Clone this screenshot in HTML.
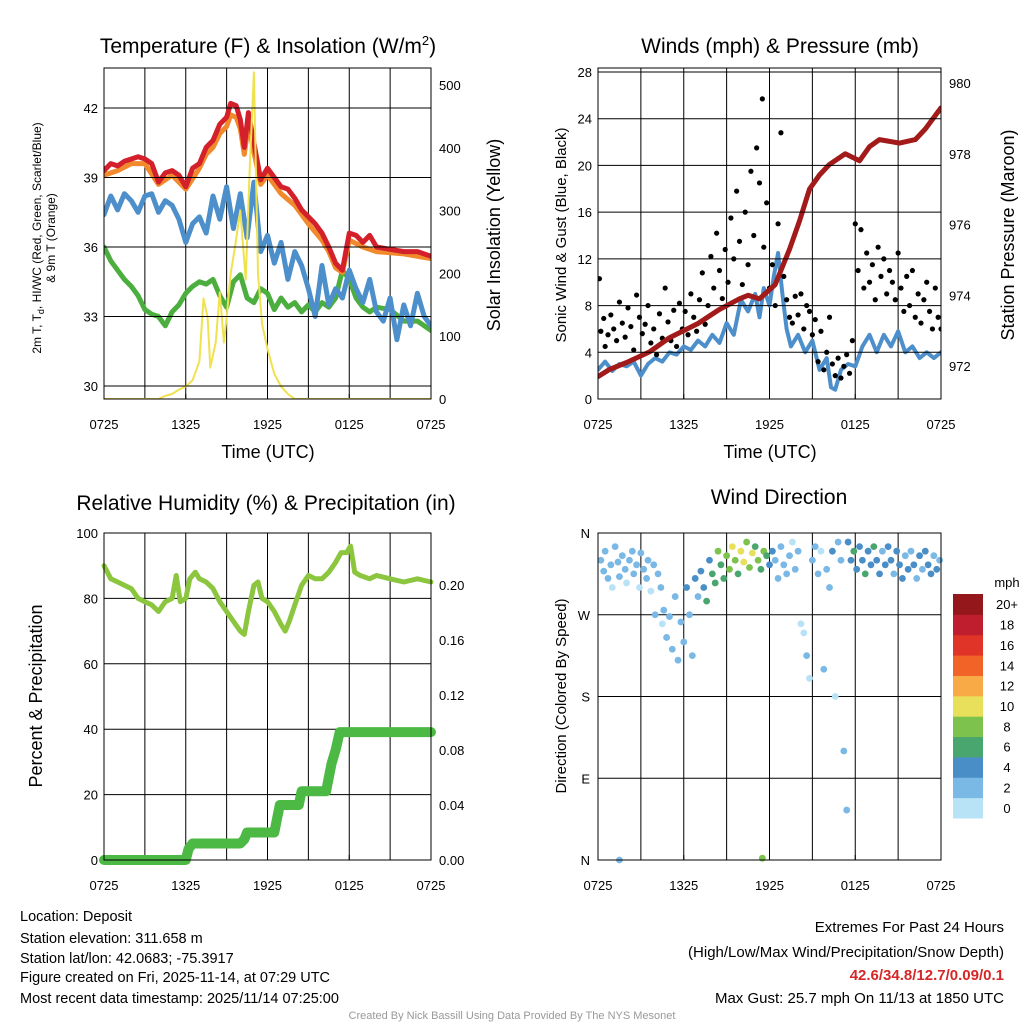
<!DOCTYPE html>
<html><head><meta charset="utf-8">
<style>
body{margin:0;background:#fff;}
svg{display:block;font-family:"Liberation Sans",sans-serif;}
</style></head>
<body>
<svg id="c" width="1024" height="1024" viewBox="0 0 1024 1024">
<rect width="1024" height="1024" fill="#fff"/>
<g id="g"></g>
<g font-size="14.5" fill="#000">
<text x="20" y="921">Location: Deposit</text>
<text x="20" y="943">Station elevation: 311.658 m</text>
<text x="20" y="963">Station lat/lon: 42.0683; -75.3917</text>
<text x="20" y="982">Figure created on Fri, 2025-11-14, at 07:29 UTC</text>
<text x="20" y="1003">Most recent data timestamp: 2025/11/14 07:25:00</text>
</g>
<g font-size="15" text-anchor="end">
<text x="1004" y="932">Extremes For Past 24 Hours</text>
<text x="1004" y="957">(High/Low/Max Wind/Precipitation/Snow Depth)</text>
<text x="1004" y="980" fill="#d62728" font-weight="bold">42.6/34.8/12.7/0.09/0.1</text>
<text x="1004" y="1003">Max Gust: 25.7 mph On 11/13 at 1850 UTC</text>
</g>
<text x="512" y="1019" text-anchor="middle" font-size="11" fill="#999">Created By Nick Bassill Using Data Provided By The NYS Mesonet</text>
</svg>
<script>
const timeLabels=["0725","1325","1925","0125","0725"];
const tempRed=[[0,39.3],[0.5,39.6],[1,39.5],[1.5,39.7],[2,39.8],[2.5,39.9],[3,39.8],[3.5,39.6],[4,38.8],[4.5,39.2],[5,39.3],[5.5,39.1],[6,38.6],[6.5,39.4],[7,39.6],[7.5,40.3],[8,40.6],[8.5,41.3],[9,41.6],[9.3,42.2],[9.7,42.1],[10,41.5],[10.3,40.3],[10.6,41.8],[11,40.5],[11.5,38.9],[12,39.4],[12.5,39.0],[13,38.6],[13.5,38.5],[14,38.1],[14.5,37.6],[15,37.3],[15.5,37.0],[16,36.6],[16.5,36.0],[17,35.3],[17.5,35.0],[18,36.6],[18.5,36.5],[19,36.2],[19.5,36.5],[20,36.0],[21,35.9],[22,35.8],[23,35.8],[24,35.6]];
const tempOrange=[[0,39.1],[1,39.3],[2,39.6],[3,39.6],[4,38.7],[5,39.1],[6,38.5],[7,39.4],[7.5,40.0],[8,40.3],[8.5,40.9],[9,41.2],[9.3,41.7],[9.7,41.6],[10,41.1],[10.3,40.0],[10.6,41.3],[11,40.1],[11.5,38.7],[12,39.1],[13,38.3],[14,37.8],[15,37.0],[16,36.3],[16.5,35.8],[17,35.1],[17.5,34.9],[18,36.3],[19,36.0],[20,35.8],[22,35.7],[24,35.5]];
const tempBlue=[[0,37.4],[0.5,38.2],[1,37.6],[1.5,38.3],[2,38.0],[2.5,37.5],[3,38.2],[3.5,38.3],[4,37.5],[4.5,38.0],[5,37.8],[5.5,37.2],[6,36.2],[6.5,37.0],[7,37.3],[7.5,36.6],[8,38.2],[8.5,37.2],[9,38.6],[9.5,36.8],[10,38.3],[10.5,36.4],[11,38.8],[11.5,35.8],[12,36.5],[12.5,35.3],[13,36.2],[13.5,34.6],[14,35.8],[14.5,35.2],[15,34.2],[15.5,33.0],[16,35.2],[16.5,33.5],[17,34.2],[17.5,33.8],[18,35.0],[18.5,34.2],[19,33.6],[19.5,34.6],[20,33.2],[20.5,32.8],[21,33.8],[21.5,32.0],[22,33.5],[22.5,32.6],[23,34.0],[23.5,33.0],[24,32.6]];
const tempGreen=[[0,36],[0.5,35.4],[1,35.0],[1.5,34.6],[2,34.3],[2.5,33.9],[3,33.3],[3.5,33.1],[4,33.0],[4.5,32.6],[5,33.2],[5.5,33.5],[6,34.0],[6.5,34.3],[7,34.5],[7.5,34.4],[8,34.6],[8.5,33.9],[9,33.4],[9.5,34.5],[10,34.8],[10.5,33.8],[11,33.6],[11.5,34.2],[12,34.0],[12.5,33.3],[13,33.8],[13.5,33.4],[14,33.6],[14.5,33.2],[15,33.5],[15.5,33.2],[16,33.6],[16.5,33.4],[17,33.8],[17.5,35.0],[18,34.6],[18.5,33.8],[19,33.4],[19.5,33.2],[20,33.4],[21,33.3],[22,32.8],[23,32.8],[24,32.4]];
const solar=[[0,0],[4,0],[4.5,5],[5,8],[5.5,15],[6,20],[6.5,30],[7,60],[7.3,160],[7.6,130],[7.8,50],[8.2,90],[8.5,170],[8.8,90],[9,130],[9.3,200],[9.6,240],[10,300],[10.4,190],[10.7,370],[11,520],[11.3,200],[11.6,120],[12,80],[12.5,40],[13,20],[13.5,8],[14,0],[24,0]];
const windSpeed=[[0,2.5],[0.5,3.2],[1,2.4],[1.5,3.0],[2,2.8],[2.5,3.2],[3,2.0],[3.5,3.0],[4,3.5],[4.5,3.2],[5,4.0],[5.5,3.8],[6,4.5],[6.5,4.2],[7,5.0],[7.5,4.5],[8,5.5],[8.5,4.8],[9,6.5],[9.5,5.5],[10,8.5],[10.5,7.5],[11,9.0],[11.3,7.0],[11.6,9.5],[12,8.0],[12.3,10.5],[12.6,12.5],[12.9,9.0],[13.2,6.0],[13.5,4.5],[14,5.5],[14.5,4.0],[15,5.0],[15.5,2.5],[16,3.5],[16.3,1.0],[16.6,0.8],[17,2.5],[17.5,3.0],[18,2.8],[18.5,4.5],[19,5.5],[19.5,4.0],[20,5.5],[20.5,4.5],[21,5.8],[21.5,4.0],[22,4.5],[22.5,3.5],[23,4.0],[23.5,3.5],[24,4.0]];
const gusts=[[0.1,10.3],[0.2,5.8],[0.4,6.9],[0.5,4.5],[0.7,5.5],[0.9,7.2],[1.1,6.0],[1.3,5.0],[1.5,8.3],[1.7,6.5],[1.9,5.3],[2.1,7.8],[2.3,6.2],[2.5,4.2],[2.7,8.9],[2.9,7.0],[3.1,5.6],[3.3,6.4],[3.5,8.0],[3.7,4.8],[3.9,6.0],[4.1,3.8],[4.3,7.3],[4.5,5.2],[4.7,9.5],[4.9,6.6],[5.1,5.0],[5.3,7.6],[5.5,4.5],[5.7,8.2],[5.9,6.0],[6.1,7.5],[6.3,5.5],[6.5,9.0],[6.7,7.0],[6.9,5.8],[7.1,8.5],[7.3,10.8],[7.5,6.4],[7.7,8.0],[7.9,12.2],[8.1,9.5],[8.3,14.2],[8.5,11.0],[8.7,8.6],[8.9,12.8],[9.1,10.0],[9.3,15.5],[9.5,12.0],[9.7,17.8],[9.9,13.5],[10.1,9.8],[10.3,16.0],[10.5,11.5],[10.7,19.5],[10.9,14.0],[11.1,21.5],[11.3,18.5],[11.5,25.7],[11.6,13.0],[11.8,16.8],[12.0,9.5],[12.2,11.5],[12.4,8.0],[12.6,15.0],[12.8,22.8],[13.0,10.5],[13.2,8.5],[13.4,7.0],[13.6,6.5],[13.8,8.8],[14.0,7.2],[14.2,9.0],[14.4,6.0],[14.6,8.0],[14.8,7.5],[15.0,5.5],[15.2,6.8],[15.4,3.2],[15.6,5.8],[15.8,2.5],[16.0,4.0],[16.2,7.0],[16.4,3.0],[16.6,2.0],[16.8,3.5],[17.0,1.8],[17.2,2.8],[17.4,3.8],[17.6,2.2],[17.8,5.0],[18.0,15.0],[18.2,11.0],[18.4,14.5],[18.6,9.5],[18.8,12.5],[19.0,10.0],[19.2,11.5],[19.4,8.5],[19.6,13.0],[19.8,10.5],[20.0,12.0],[20.2,9.0],[20.4,11.0],[20.6,10.0],[20.8,8.5],[21.0,12.5],[21.2,9.5],[21.4,7.5],[21.6,10.5],[21.8,8.0],[22.0,11.0],[22.2,7.0],[22.4,9.0],[22.6,6.5],[22.8,8.5],[23.0,10.0],[23.2,7.5],[23.4,6.0],[23.6,9.5],[23.8,7.0],[24,6.0]];
const pressure=[[0,971.7],[0.8,971.9],[2,972.1],[3.6,972.4],[5,972.8],[7,973.2],[8.5,973.6],[9.9,973.9],[10.5,974.0],[11.3,973.9],[12.4,974.3],[13.4,975.3],[14.1,976.1],[14.8,977.0],[15.5,977.4],[16.2,977.7],[17.3,978.0],[18.3,977.8],[19,978.2],[19.7,978.4],[21.1,978.3],[22.2,978.4],[22.9,978.7],[24,979.3]];
const rh=[[0,90],[0.5,86],[1,85],[2,83],[2.5,80],[3,79],[3.5,78],[4,76],[4.5,79],[5,80],[5.3,87],[5.6,79],[6,80],[6.3,86],[6.7,88],[7,86],[7.5,85],[8,83],[8.5,79],[9,76],[9.5,73],[10,70],[10.3,69],[10.6,76],[11,84],[11.3,85],[11.6,80],[12,79],[12.5,76],[13,72],[13.3,70],[13.6,73],[14,78],[14.5,84],[15,87],[15.5,86],[16,86],[16.5,88],[17,91],[17.4,94],[17.8,94],[18.1,96],[18.4,88],[18.8,87],[19.5,86],[20,87],[21,86],[22,85],[23,86],[24,85]];
const precip=[[0,0],[6,0],[6.2,0.008],[6.5,0.012],[10,0.012],[10.3,0.015],[10.5,0.02],[12.5,0.02],[12.7,0.03],[12.9,0.04],[14.3,0.04],[14.5,0.05],[16.3,0.05],[16.5,0.06],[16.7,0.07],[17.0,0.08],[17.3,0.093],[24,0.093]];
const windDir=[[0.2,330,3],[0.4,318,2],[0.5,340,3],[0.7,310,2],[0.9,325,3],[1.0,300,1],[1.2,345,2],[1.4,328,3],[1.5,312,2],[1.7,335,3],[1.9,320,2],[2.0,305,1],[2.2,330,3],[2.4,340,2],[2.5,315,2],[2.7,325,3],[2.9,300,1],[3.0,338,2],[3.2,320,3],[3.4,310,2],[3.5,330,2],[3.7,296,1],[3.9,325,3],[4.0,270,2],[4.2,315,3],[4.4,300,2],[4.5,260,1],[4.6,275,3],[4.8,245,3],[5.0,268,2],[5.2,232,3],[5.4,290,2],[5.6,220,3],[5.8,262,2],[6.0,240,3],[6.2,300,4],[6.4,270,3],[6.6,225,3],[6.8,310,4],[7.0,290,3],[7.2,318,5],[7.4,300,4],[7.6,285,6],[7.8,330,5],[8.0,315,7],[8.2,305,6],[8.4,340,8],[8.6,325,7],[8.8,310,6],[9.0,335,9],[9.2,320,8],[9.4,345,10],[9.6,330,9],[9.8,315,7],[10.0,340,10],[10.2,328,11],[10.4,350,9],[10.6,322,8],[10.8,338,10],[11.0,345,7],[11.2,330,9],[11.4,320,6],[11.6,340,8],[11.8,335,7],[12.0,325,5],[12.2,340,4],[12.4,330,3],[12.6,310,2],[12.8,345,3],[13.0,325,3],[13.2,315,2],[13.4,335,3],[13.6,350,1],[13.8,320,3],[14.0,340,2],[14.2,260,1],[14.4,250,1],[14.6,225,2],[14.8,200,1],[15.0,330,3],[15.2,345,2],[15.4,315,3],[15.6,340,1],[15.8,210,2],[16.0,320,3],[16.2,300,2],[16.4,340,4],[16.6,180,1],[16.8,350,2],[17.0,330,3],[17.2,120,2],[17.4,55,3],[17.5,350,4],[17.7,330,5],[17.9,340,6],[18.1,320,4],[18.3,345,5],[18.5,330,4],[18.7,315,6],[18.9,340,5],[19.1,325,4],[19.3,345,6],[19.5,330,5],[19.7,315,4],[19.9,340,3],[20.1,325,4],[20.3,345,5],[20.5,330,4],[20.7,315,3],[20.9,340,4],[21.1,325,5],[21.3,310,4],[21.5,335,3],[21.7,320,4],[21.9,340,3],[22.1,325,4],[22.3,310,3],[22.5,335,4],[22.7,320,3],[22.9,340,4],[23.1,325,5],[23.3,315,4],[23.5,335,3],[23.7,320,4],[23.9,330,3],[1.5,0,2],[11.5,2,9]];
const cbarLabels=["0","2","4","6","8","10","12","14","16","18","20+"];
const cbarColors=["#b8e3f7","#7ab8e5","#4a8ec8","#4aa66f","#7cc24d","#e8e05a","#f8aa46","#f26328","#e03428","#be1e2d","#93171b"];

const NS="http://www.w3.org/2000/svg";
const G=document.getElementById('g');
function el(tag,attrs,parent,txt){const e=document.createElementNS(NS,tag);for(const k in attrs)e.setAttribute(k,attrs[k]);if(txt!==undefined)e.textContent=txt;(parent||G).appendChild(e);return e;}
function lin(d0,d1,r0,r1){return v=>r0+(v-d0)*(r1-r0)/(d1-d0);}

function frame(name,x0,x1,y0,y1){
  const g=el('g',{});
  
  
  const xs=lin(0,24,x0,x1);
  for(let h=3;h<24;h+=3){const l=el('line',{x1:xs(h),x2:xs(h),y1:y0,y2:y1,stroke:'#000','stroke-width':1},g);
    }
  timeLabels.forEach((t,i)=>{const tx=el('text',{x:xs(i*6),y:y1+30,'text-anchor':'middle','font-size':13},g,t);
    
    el('line',{x1:xs(i*6),x2:xs(i*6),y1:y1,y2:y1-5,stroke:'#000'},g);});
  return {g,xs};
}
function border(g,x0,x1,y0,y1){const r=el('rect',{x:x0,y:y0,width:x1-x0,height:y1-y0,fill:'none',stroke:'#000','stroke-width':1},g);
  }
function poly(g,pts,xs,ys,col,w,name){
  let d='';pts.forEach((p,i)=>{d+=(i?'L':'M')+xs(p[0]).toFixed(1)+','+ys(p[1]).toFixed(1);});
  const p=el('path',{d,fill:'none',stroke:col,'stroke-width':w,'stroke-linejoin':'round','stroke-linecap':'round'},g);
  return p;}
function hgrid(g,x0,x1,y){el('line',{x1:x0,x2:x1,y1:y,y2:y,stroke:'#000','stroke-width':1},g);}
function ytick(g,x,y,t,anchor,name){const e=el('text',{x,y:y+5,'text-anchor':anchor,'font-size':13},g,t);
  }

// Panel 1
(function(){
 const x0=104,x1=431,y0=68,y1=399;
 const {g,xs}=frame('temperature-panel',x0,x1,y0,y1);
 const yT=lin(30,42,386,108), yS=lin(0,500,399,85);
 const cp=el('clipPath',{id:'cp1'},g);el('rect',{x:x0,y:y0,width:x1-x0,height:y1-y0},cp);
 const cg=el('g',{'clip-path':'url(#cp1)'},g);
 [30,33,36,39,42].forEach(v=>{hgrid(g,x0,x1,yT(v));ytick(g,x0-6,yT(v),v,'end','left-y-tick');});
 [0,100,200,300,400,500].forEach(v=>ytick(g,x1+8,yS(v),v,'start','right-y-tick'));
 poly(cg,tempGreen,xs,yT,'#4cae3f',5,'dewpoint-line');
 poly(cg,tempBlue,xs,yT,'#4d8fca',5,'windchill-line');
 poly(cg,tempOrange,xs,yT,'#f08a2c',5,'temp-9m-line');
 poly(cg,tempRed,xs,yT,'#d3202a',5,'temp-2m-line');
 poly(cg,solar,xs,yS,'#f0e24e',2,'solar-insolation-line');
 border(g,x0,x1,y0,y1);
 let t=el('text',{x:268,y:53,'text-anchor':'middle','font-size':21},g);
 
 t.innerHTML='Temperature (F) &amp; Insolation (W/m<tspan dy="-8" font-size="13">2</tspan><tspan dy="8">)</tspan>';
 t=el('text',{x:268,y:458,'text-anchor':'middle','font-size':18},g,'Time (UTC)');
 t=el('text',{transform:'translate(41,238) rotate(-90)','text-anchor':'middle','font-size':12},g);
 
 t.innerHTML='2m T, T<tspan dy="3" font-size="9">d</tspan><tspan dy="-3">, HI/WC (Red, Green, Scarlet/Blue)</tspan>';
 t=el('text',{transform:'translate(55,238) rotate(-90)','text-anchor':'middle','font-size':12},g,'& 9m T (Orange)');
 
 t=el('text',{transform:'translate(500,235) rotate(-90)','text-anchor':'middle','font-size':18},g,'Solar Insolation (Yellow)');
 
})();

// Panel 2
(function(){
 const x0=598,x1=941,y0=68,y1=399;
 const {g,xs}=frame('wind-pressure-panel',x0,x1,y0,y1);
 const yW=lin(0,28,399,72), yP=lin(972,980,366,83);
 const cp=el('clipPath',{id:'cp2'},g);el('rect',{x:x0,y:y0,width:x1-x0,height:y1-y0},cp);
 const cg=el('g',{'clip-path':'url(#cp2)'},g);
 [0,4,8,12,16,20,24,28].forEach(v=>{hgrid(g,x0,x1,yW(v));ytick(g,x0-6,yW(v),v,'end','left-y-tick');});
 [972,974,976,978,980].forEach(v=>ytick(g,x1+8,yP(v),v,'start','right-y-tick'));
 poly(cg,windSpeed,xs,yW,'#4d8fca',4,'wind-speed-line');
 gusts.forEach(p=>{const c=el('circle',{cx:xs(p[0]),cy:yW(p[1]),r:2.6,fill:'#000'},cg);
   });
 poly(cg,pressure,xs,yP,'#a31a1a',5,'pressure-line');
 border(g,x0,x1,y0,y1);
 let t=el('text',{x:780,y:53,'text-anchor':'middle','font-size':21},g,'Winds (mph) & Pressure (mb)');
 
 t=el('text',{x:770,y:458,'text-anchor':'middle','font-size':18},g,'Time (UTC)');
 t=el('text',{transform:'translate(566,235) rotate(-90)','text-anchor':'middle','font-size':15},g,'Sonic Wind & Gust (Blue, Black)');
 
 t=el('text',{transform:'translate(1014,235) rotate(-90)','text-anchor':'middle','font-size':18},g,'Station Pressure (Maroon)');
 
})();

// Panel 3
(function(){
 const x0=104,x1=431,y0=533,y1=860;
 const {g,xs}=frame('humidity-precip-panel',x0,x1,y0,y1);
 const yR=lin(0,100,860,533), yQ=lin(0,0.04,860,805);
 [0,20,40,60,80,100].forEach(v=>{hgrid(g,x0,x1,yR(v));ytick(g,x0-6,yR(v),v,'end','left-y-tick');});
 [0,0.04,0.08,0.12,0.16,0.20].forEach(v=>ytick(g,x1+8,yQ(v),v.toFixed(2),'start','right-y-tick'));
 poly(g,rh,xs,yR,'#8cc63f',5,'relative-humidity-line');
 poly(g,precip,xs,yQ,'#4cb944',10,'precipitation-line');
 border(g,x0,x1,y0,y1);
 let t=el('text',{x:266,y:510,'text-anchor':'middle','font-size':21},g,'Relative Humidity (%) & Precipitation (in)');
 
 t=el('text',{transform:'translate(42,696) rotate(-90)','text-anchor':'middle','font-size':18},g,'Percent & Precipitation');
 
})();

// Panel 4
(function(){
 const x0=598,x1=941,y0=533,y1=860;
 const {g,xs}=frame('wind-direction-panel',x0,x1,y0,y1);
 const yD=lin(0,360,860,533);
 [[0,'N'],[90,'E'],[180,'S'],[270,'W'],[360,'N']].forEach(a=>{hgrid(g,x0,x1,yD(a[0]));ytick(g,x0-8,yD(a[0]),a[1],'end','direction-tick');});
 windDir.forEach(p=>{const bin=Math.min(10,Math.floor(p[2]/2));
   const c=el('circle',{cx:xs(p[0]),cy:yD(p[1]),r:3.4,fill:cbarColors[bin]},g);
   });
 border(g,x0,x1,y0,y1);
 let t=el('text',{x:779,y:504,'text-anchor':'middle','font-size':21},g,'Wind Direction');
 
 t=el('text',{transform:'translate(566,696) rotate(-90)','text-anchor':'middle','font-size':15},g,'Direction (Colored By Speed)');
 
 const cb=el('g',{},g);
 const top=594,bot=818,bh=(bot-top)/11;
 for(let i=0;i<11;i++){const yy=bot-(i+1)*bh;
   const r=el('rect',{x:953,y:yy,width:30,height:bh+0.5,fill:cbarColors[i]},cb);
   
   const tx=el('text',{x:1007,y:yy+bh/2+5,'text-anchor':'middle','font-size':13},cb,cbarLabels[i]);
   }
 t=el('text',{x:1007,y:587,'text-anchor':'middle','font-size':13},cb,'mph');
})();
</script>
</body></html>
